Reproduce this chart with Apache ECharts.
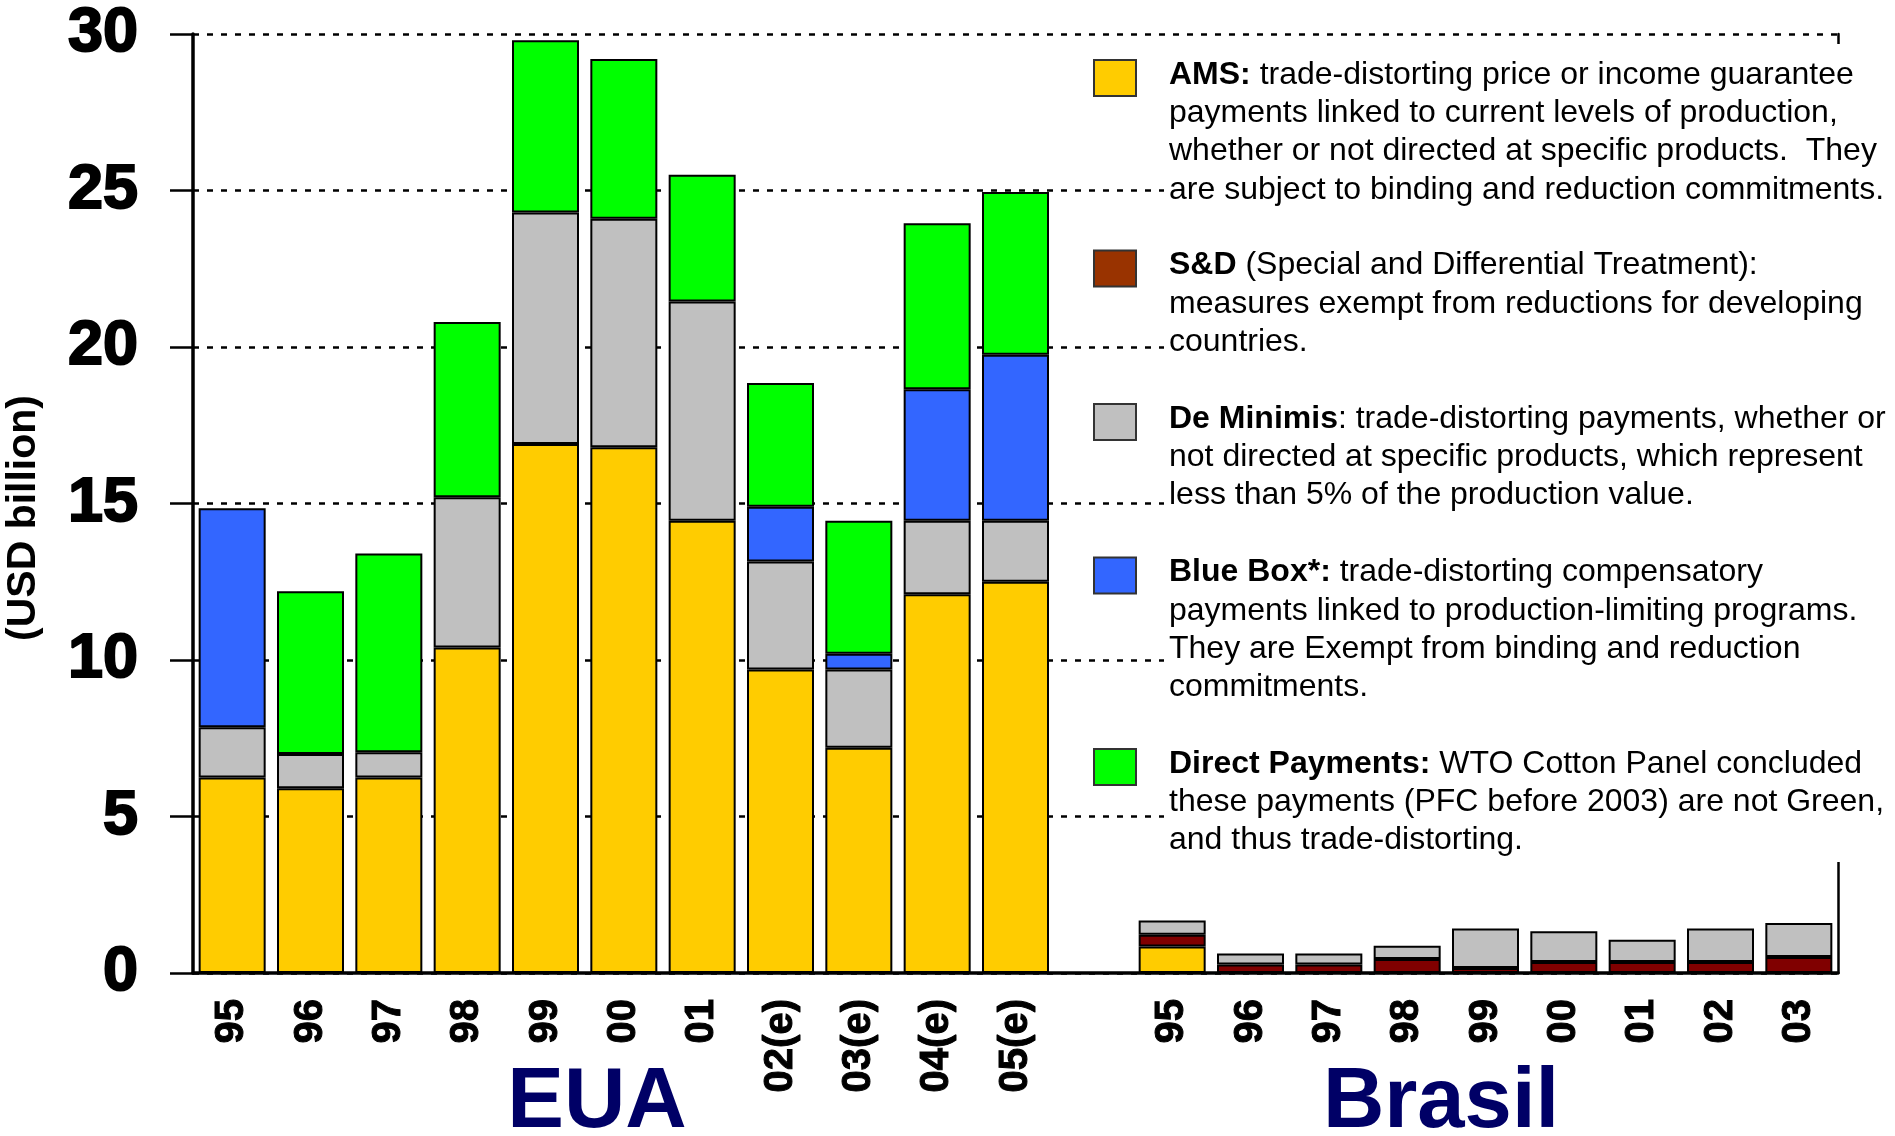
<!DOCTYPE html>
<html>
<head>
<meta charset="utf-8">
<title>Domestic support: EUA vs Brasil</title>
<script src="https://cdn.jsdelivr.net/npm/echarts@6/dist/echarts.min.js"></script>
<style>
  html, body { margin: 0; padding: 0; background: #ffffff; }
  #chart { width: 1895px; height: 1136px; }
</style>
</head>
<body>
<div id="chart"></div>
<script>
// categories
const euaYears = ["95", "96", "97", "98", "99", "00", "01", "02(e)", "03(e)", "04(e)", "05(e)"];
const brYears = ["95", "96", "97", "98", "99", "00", "01", "02", "03"];

// USD billion
const euaAMS = [6.25, 5.9, 6.25, 10.4, 16.9, 16.8, 14.45, 9.7, 7.2, 12.1, 12.5];
const euaDeMinimis = [1.6, 1.1, 0.8, 4.8, 7.4, 7.3, 7.0, 3.45, 2.5, 2.35, 1.95];
const euaBlueBox = [7.0, 0, 0, 0, 0, 0, 0, 1.75, 0.5, 4.2, 5.3];
const euaDirect = [0, 5.2, 6.35, 5.6, 5.5, 5.1, 4.05, 3.95, 4.25, 5.3, 5.2];

const brAMS = [0.85, 0, 0, 0, 0, 0, 0, 0, 0];
const brSD = [0.37, 0.27, 0.27, 0.45, 0.16, 0.35, 0.35, 0.35, 0.51];
const brDeMinimis = [0.46, 0.35, 0.35, 0.42, 1.26, 0.98, 0.71, 1.07, 1.09];

const yTicks = [0, 5, 10, 15, 20, 25, 30];

// legend notes, first line carries the bold term
const notes = [
  { name: "AMS", color: "#FFCC00", y: 75,
    lines: ["{b|AMS:} trade-distorting price or income guarantee",
            "payments linked to current levels of production,",
            "whether or not directed at specific products.  They",
            "are subject to binding and reduction commitments."] },
  { name: "S&D", color: "#993300", y: 265.5,
    lines: ["{b|S&D} (Special and Differential Treatment):",
            "measures exempt from reductions for developing",
            "countries."] },
  { name: "De Minimis", color: "#C0C0C0", y: 419,
    lines: ["{b|De Minimis}: trade-distorting payments, whether or",
            "not directed at specific products, which represent",
            "less than 5% of the production value."] },
  { name: "Blue Box", color: "#3366FF", y: 572.5,
    lines: ["{b|Blue Box*:} trade-distorting compensatory",
            "payments linked to production-limiting programs.",
            "They are Exempt from binding and reduction",
            "commitments."] },
  { name: "Direct Payments", color: "#00FF00", y: 764,
    lines: ["{b|Direct Payments:} WTO Cotton Panel concluded",
            "these payments (PFC before 2003) are not Green,",
            "and thus trade-distorting."] }
];

const categories = [...euaYears, "", ...brYears];
const pad = (eua, br) => [...eua, null, ...br].map((v) => (v ? v : null));
const none = (n) => new Array(n).fill(0);

const seriesDefs = [
  { name: "AMS", color: "#FFCC00", data: pad(euaAMS, brAMS) },
  { name: "S&D", color: "#800000", data: pad(none(euaYears.length), brSD) },
  { name: "De Minimis", color: "#C0C0C0", data: pad(euaDeMinimis, brDeMinimis) },
  { name: "Blue Box", color: "#3366FF", data: pad(euaBlueBox, none(brYears.length)) },
  { name: "Direct Payments", color: "#00FF00", data: pad(euaDirect, none(brYears.length)) }
];

const FONT = "'Liberation Sans', Arial, sans-serif";

const chart = echarts.init(document.getElementById("chart"));

const graphics = [
  // white box behind the notes, hides the dotted grid lines
  { type: "rect", z: 100, shape: { x: 1164, y: 44, width: 731, height: 818 },
    style: { fill: "#ffffff" }, silent: true },
  { type: "text", z: 110, x: 24, y: 518, rotation: Math.PI / 2,
    style: { text: "(USD billion)", fontFamily: FONT, fontSize: 41, fontWeight: "bold",
             fill: "#000000", align: "center", verticalAlign: "middle" } },
  { type: "text", z: 110, x: 597, y: 1104,
    style: { text: "EUA", fontFamily: FONT, fontSize: 85, fontWeight: "bold",
             fill: "#000066", align: "center", verticalAlign: "middle" } },
  { type: "text", z: 110, x: 1441, y: 1104,
    style: { text: "Brasil", fontFamily: FONT, fontSize: 85, fontWeight: "bold",
             fill: "#000066", align: "center", verticalAlign: "middle" } }
];

notes.forEach((n) => {
  graphics.push({
    type: "rect", z: 110,
    shape: { x: 1094, y: n.y - 15, width: 42, height: 36 },
    style: { fill: n.color, stroke: "#333333", lineWidth: 2 }
  });
  n.lines.forEach((line, i) => {
    graphics.push({
      type: "text", z: 110, x: 1169, y: n.y + i * 38.3,
      style: {
        text: line, fontFamily: FONT, fontSize: 32, fill: "#000000",
        align: "left", verticalAlign: "middle",
        rich: { b: { fontFamily: FONT, fontSize: 32, fontWeight: "bold", fill: "#000000" } }
      }
    });
  });
});

const option = {
  animation: false,
  backgroundColor: "#ffffff",
  grid: { left: 193, right: 57, top: 34, bottom: 163 },
  xAxis: {
    type: "category",
    data: categories,
    axisLine: { show: true, lineStyle: { color: "#000000", width: 3.5 } },
    axisTick: { show: false },
    axisLabel: {
      interval: 0, rotate: 90, margin: 26,
      fontFamily: FONT, fontSize: 40, fontWeight: "bold", color: "#000000",
      textBorderColor: "#000000", textBorderWidth: 1
    }
  },
  yAxis: [
    {
      type: "value", min: 0, max: 30, interval: 5,
      axisLine: { show: true, lineStyle: { color: "#000000", width: 3.5 } },
      axisTick: { show: true, length: 23, lineStyle: { color: "#000000", width: 2.5 } },
      axisLabel: {
        margin: 55, fontFamily: FONT, fontSize: 63, fontWeight: "bold", color: "#000000",
        textBorderColor: "#000000", textBorderWidth: 2,
        formatter: (v) => (yTicks.includes(v) ? String(v) : "")
      },
      splitLine: { show: true, lineStyle: { color: "#000000", width: 2.5, type: [6, 8] } }
    },
    {
      type: "value", min: 0, max: 30, interval: 5, position: "right",
      axisLine: { show: true, lineStyle: { color: "#000000", width: 2.5 } },
      axisTick: { show: false },
      axisLabel: { show: false },
      splitLine: { show: false }
    }
  ],
  series: seriesDefs.map((s) => ({
    name: s.name,
    type: "bar",
    stack: "total",
    barWidth: 67,
    data: s.data,
    itemStyle: { color: s.color, borderColor: "#000000", borderWidth: 2 }
  })),
  graphic: graphics
};

chart.setOption(option);
</script>
</body>
</html>
